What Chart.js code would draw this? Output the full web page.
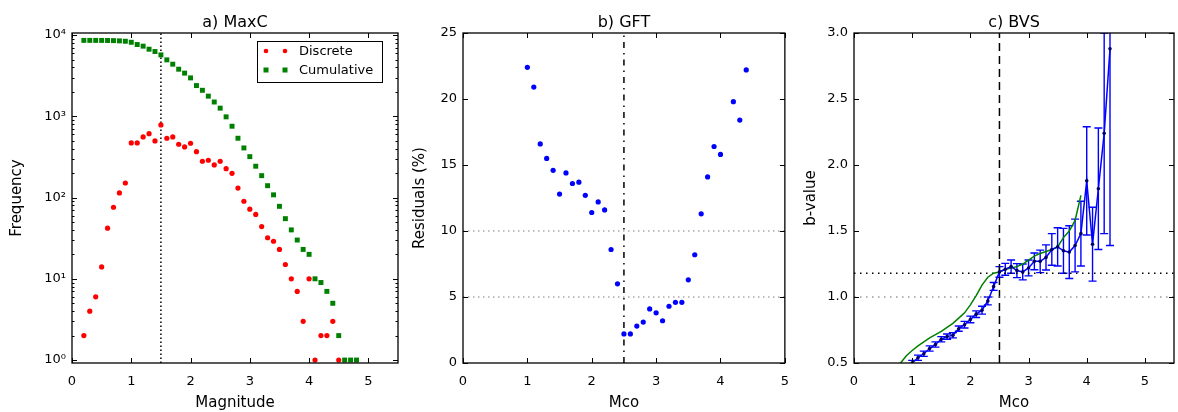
<!DOCTYPE html>
<html><head><meta charset="utf-8">
<script src="https://cdn.jsdelivr.net/npm/chart.js@4.4.1/dist/chart.umd.min.js"></script>
<style>
html,body{margin:0;padding:0;background:#fff;}
body{width:1178px;height:412px;position:relative;overflow:hidden;}
canvas{position:absolute;top:0;}
</style></head><body>
<canvas id="ca" width="410" height="412" style="left:0px"></canvas>
<canvas id="cb" width="390" height="412" style="left:410px"></canvas>
<canvas id="cc" width="378" height="412" style="left:800px"></canvas>
<script>
// ---------- data: panel a (MaxC) ----------
const discreteMag = [0.2,0.3,0.4,0.5,0.6,0.7,0.8,0.9,1.0,1.1,1.2,1.3,1.4,1.5,1.6,1.7,1.8,1.9,2.0,2.1,2.2,2.3,2.4,2.5,2.6,2.7,2.8,2.9,3.0,3.1,3.2,3.3,3.4,3.5,3.6,3.7,3.8,3.9,4.0,4.1,4.2,4.3,4.4,4.5];
const discreteCount = [2,4,6,14,42,76,114,151,470,470,557,612,498,783,537,557,453,420,466,367,280,288,252,280,227,199,131,90,72,62,44,32,29,23,15,10,7,3,10,1,2,2,3,1];
const cumulativeMag = [0.2,0.3,0.4,0.5,0.6,0.7,0.8,0.9,1.0,1.1,1.2,1.3,1.4,1.5,1.6,1.7,1.8,1.9,2.0,2.1,2.2,2.3,2.4,2.5,2.6,2.7,2.8,2.9,3.0,3.1,3.2,3.3,3.4,3.5,3.6,3.7,3.8,3.9,4.0,4.1,4.2,4.3,4.4,4.5,4.6,4.7,4.8];
const cumulativeCount = [8600,8600,8595,8590,8575,8540,8480,8390,8150,7650,7300,6700,6270,5700,4950,4380,3800,3400,2970,2390,2090,1770,1500,1260,985,755,537,408,319,243,186,140,108,78,55,40,30,23,20,10,9,7,5,2,1,1,1];
const maxcMc = 1.5;
const aXTicks = [0,1,2,3,4,5];
const aYTicks = [1,10,100,1000,10000];
const aYLabels = ['10\u2070','10\u00B9','10\u00B2','10\u00B3','10\u2074'];

// ---------- data: panel b (GFT) ----------
const gftMco = [1.0,1.1,1.2,1.3,1.4,1.5,1.6,1.7,1.8,1.9,2.0,2.1,2.2,2.3,2.4,2.5,2.6,2.7,2.8,2.9,3.0,3.1,3.2,3.3,3.4,3.5,3.6,3.7,3.8,3.9,4.0,4.2,4.3,4.4];
const gftResidual = [22.4,20.9,16.6,15.5,14.6,12.8,14.4,13.6,13.7,12.7,11.4,12.2,11.6,8.6,6.0,2.2,2.2,2.8,3.1,4.1,3.8,3.2,4.3,4.6,4.6,6.3,8.2,11.3,14.1,16.4,15.8,19.8,18.4,22.2];
const gftMc = 2.5;
const gftLevels = [5, 10];
const bXTicks = [0,1,2,3,4,5];
const bYTicks = [0,5,10,15,20,25];

// ---------- data: panel c (BVS) ----------
const bvsMco = [1.0,1.1,1.2,1.3,1.4,1.5,1.6,1.7,1.8,1.9,2.0,2.1,2.2,2.3,2.4,2.5,2.6,2.7,2.8,2.9,3.0,3.1,3.2,3.3,3.4,3.5,3.6,3.7,3.8,3.9,4.0,4.1,4.2,4.3,4.4];
const bvsB = [0.50,0.54,0.57,0.61,0.64,0.68,0.70,0.71,0.76,0.79,0.83,0.87,0.90,0.97,1.08,1.19,1.21,1.23,1.20,1.19,1.22,1.27,1.27,1.30,1.36,1.38,1.35,1.34,1.39,1.48,1.88,1.40,1.82,2.24,2.88];
const bvsErr = [0.02,0.02,0.02,0.02,0.02,0.02,0.02,0.02,0.02,0.025,0.025,0.025,0.03,0.03,0.03,0.04,0.045,0.05,0.053,0.06,0.06,0.063,0.085,0.095,0.12,0.145,0.17,0.2,0.2,0.245,0.41,0.28,0.46,0.76,1.49];
const shiMco = [0.7,0.8,0.9,1.0,1.1,1.2,1.3,1.4,1.5,1.6,1.7,1.8,1.9,2.0,2.1,2.2,2.3,2.4,2.5,2.6,2.7,2.8,2.9,3.0,3.1,3.2,3.3,3.4,3.5,3.6,3.7,3.8,3.9];
const shiB = [0.46,0.50,0.555,0.595,0.63,0.66,0.69,0.715,0.74,0.77,0.80,0.84,0.88,0.94,1.01,1.09,1.15,1.18,1.19,1.21,1.22,1.23,1.25,1.28,1.31,1.33,1.345,1.36,1.38,1.45,1.50,1.58,1.77];
const bvsMc = 2.5;
const bvsBvalue = 1.18;
const bvsRef = 1.0;
const cXTicks = [0,1,2,3,4,5];
const cYTicks = [0.5,1.0,1.5,2.0,2.5,3.0];

// ---------- helpers ----------
Chart.defaults.font.family = "'DejaVu Sans', sans-serif";
Chart.defaults.color = '#000';
Chart.defaults.animation = false;
const FONT = "'DejaVu Sans', sans-serif";
const pts = (xs, ys) => xs.map((v, i) => ({x: v, y: ys[i]}));

const frameTicks = {
  id: 'frameTicks',
  afterDatasetsDraw(chart, args, opts) {
    const {ctx, chartArea: a} = chart;
    const x = chart.scales.x, y = chart.scales.y;
    ctx.save();
    ctx.strokeStyle = '#000';
    ctx.lineWidth = 1;
    ctx.beginPath();
    const M = 5, m = 2.5;
    for (const t of x.ticks) {
      const p = Math.round(x.getPixelForValue(t.value)) + 0.5;
      ctx.moveTo(p, a.bottom); ctx.lineTo(p, a.bottom - M);
      ctx.moveTo(p, a.top); ctx.lineTo(p, a.top + M);
    }
    for (const t of y.ticks) {
      const p = Math.round(y.getPixelForValue(t.value)) + 0.5;
      ctx.moveTo(a.left, p); ctx.lineTo(a.left + M, p);
      ctx.moveTo(a.right, p); ctx.lineTo(a.right - M, p);
    }
    for (const v of (opts.minorY || [])) {
      const p = Math.round(y.getPixelForValue(v)) + 0.5;
      if (p < a.top || p > a.bottom) continue;
      ctx.moveTo(a.left, p); ctx.lineTo(a.left + m, p);
      ctx.moveTo(a.right, p); ctx.lineTo(a.right - m, p);
    }
    ctx.stroke();
    ctx.lineWidth = 1.3;
    ctx.strokeRect(a.left, a.top, a.right - a.left, a.bottom - a.top);
    ctx.restore();
  }
};

const panelTitle = {
  id: 'panelTitle',
  afterDraw(chart, args, opts) {
    const {ctx, chartArea: a} = chart;
    ctx.save();
    ctx.font = '16px ' + FONT;
    ctx.fillStyle = '#000';
    ctx.textAlign = 'center';
    ctx.textBaseline = 'alphabetic';
    ctx.fillText(opts.text, (a.left + a.right) / 2, 27);
    ctx.restore();
  }
};

const legendBox = {
  id: 'legendBox',
  afterDraw(chart, args, opts) {
    const {ctx, chartArea: a} = chart;
    const w = 125, h = 41;
    const bx = Math.round(a.right - 16 - w), by = Math.round(a.top + 8);
    ctx.save();
    ctx.fillStyle = '#fff';
    ctx.fillRect(bx, by, w, h);
    ctx.strokeStyle = '#000';
    ctx.lineWidth = 1;
    ctx.strokeRect(bx + 0.5, by + 0.5, w, h);
    const ds = chart.data.datasets.filter(d => d.inLegend);
    ds.forEach((d, i) => {
      const cy = by + 10 + i * 19;
      for (const mx of [bx + 9, bx + 28]) {
        ctx.fillStyle = d.backgroundColor;
        if (d.pointStyle === 'rect') {
          ctx.fillRect(mx - 2.5, cy - 2.5, 5, 5);
        } else {
          ctx.beginPath(); ctx.arc(mx, cy, 2.3, 0, Math.PI * 2); ctx.fill();
        }
      }
      ctx.fillStyle = '#000';
      ctx.font = '13px ' + FONT;
      ctx.textAlign = 'left';
      ctx.textBaseline = 'middle';
      ctx.fillText(d.label, bx + 42, cy + 1);
    });
    ctx.restore();
  }
};

const errorBars = {
  id: 'errorBars',
  beforeDatasetsDraw(chart) {
    const {ctx, chartArea: a} = chart;
    const x = chart.scales.x, y = chart.scales.y;
    ctx.save();
    ctx.beginPath();
    ctx.rect(a.left, a.top, a.right - a.left, a.bottom - a.top);
    ctx.clip();
    chart.data.datasets.forEach(d => {
      if (!d.errors) return;
      ctx.strokeStyle = d.errorColor;
      ctx.lineWidth = 1.4;
      ctx.beginPath();
      d.data.forEach((p, i) => {
        const e = d.errors[i];
        const px = x.getPixelForValue(p.x);
        const y1 = y.getPixelForValue(p.y - e), y2 = y.getPixelForValue(p.y + e);
        ctx.moveTo(px, y1); ctx.lineTo(px, y2);
        ctx.moveTo(px - 4, y1); ctx.lineTo(px + 4, y1);
        ctx.moveTo(px - 4, y2); ctx.lineTo(px + 4, y2);
      });
      ctx.stroke();
    });
    ctx.restore();
  }
};

function xScale(min, max, tickVals, title) {
  return {
    type: 'linear', min, max,
    grid: {display: false, drawTicks: false}, border: {display: false},
    ticks: {padding: 11, font: {size: 13}, color: '#000', autoSkip: false, maxRotation: 0,
            callback: v => String(v)},
    afterBuildTicks: s => { s.ticks = tickVals.map(v => ({value: v})); },
    afterFit: s => { s.height = 49; },
    title: {display: true, text: title, font: {size: 15}, color: '#000', padding: {top: 0, bottom: 0}}
  };
}
function yScale(type, min, max, tickVals, labelFn, title, width, tpad) {
  return {
    type, min, max,
    grid: {display: false, drawTicks: false}, border: {display: false},
    ticks: {padding: 6, font: {size: 13}, color: '#000', autoSkip: false,
            callback: (v) => labelFn(v)},
    afterBuildTicks: s => { s.ticks = tickVals.map(v => ({value: v})); },
    afterFit: s => { s.width = width; },
    title: {display: true, text: title, font: {size: 15}, color: '#000', padding: {top: tpad, bottom: tpad}}
  };
}
const vline = (xv, ymin, ymax, color, dash, width) => ({
  data: [{x: xv, y: ymin}, {x: xv, y: ymax}], showLine: true, pointRadius: 0,
  borderColor: color, borderDash: dash, borderWidth: width, order: 10
});
const hline = (yv, xmin, xmax, color, dash, width) => ({
  data: [{x: xmin, y: yv}, {x: xmax, y: yv}], showLine: true, pointRadius: 0,
  borderColor: color, borderDash: dash, borderWidth: width, order: 10
});
const common = {
  responsive: false, devicePixelRatio: 1, animation: false, events: [],
  plugins: {legend: {display: false}, tooltip: {enabled: false}}
};

// ---------- panel a ----------
const aMinor = [];
for (const d of [1, 10, 100, 1000]) for (let k = 2; k <= 9; k++) aMinor.push(k * d);
new Chart(document.getElementById('ca'), {
  type: 'scatter',
  data: {datasets: [
    vline(maxcMc, 0.92, 10600, '#000', [1.5, 2.5], 1.5),
    {label: 'Discrete', inLegend: true, data: pts(discreteMag, discreteCount), pointStyle: 'circle',
     pointRadius: 2.6, backgroundColor: '#ff0000', pointBorderWidth: 0, order: 1},
    {label: 'Cumulative', inLegend: true, data: pts(cumulativeMag, cumulativeCount), pointStyle: 'rect',
     pointRadius: 3.5, backgroundColor: '#008000', pointBorderWidth: 0, order: 2}
  ]},
  options: Object.assign({}, common, {
    layout: {padding: {left: 0, right: 12, top: 33, bottom: 0}},
    scales: {
      x: xScale(0, 5.5, aXTicks, 'Magnitude'),
      y: yScale('logarithmic', 0.92, 10600, aYTicks, v => aYLabels[aYTicks.indexOf(v)] || '', 'Frequency', 72, 8)
    },
    plugins: Object.assign({}, common.plugins, {frameTicks: {minorY: aMinor}, panelTitle: {text: 'a) MaxC'}})
  }),
  plugins: [frameTicks, panelTitle, legendBox]
});

// ---------- panel b ----------
new Chart(document.getElementById('cb'), {
  type: 'scatter',
  data: {datasets: [
    hline(gftLevels[0], 0, 5, '#aaaaaa', [1.5, 3.5], 1.5),
    hline(gftLevels[1], 0, 5, '#aaaaaa', [1.5, 3.5], 1.5),
    vline(gftMc, 0, 25, '#000', [6, 5, 1.5, 5], 1.5),
    {label: 'GFT', data: pts(gftMco, gftResidual), pointStyle: 'circle', pointRadius: 2.6,
     backgroundColor: '#0000ff', pointBorderWidth: 0, order: 1}
  ]},
  options: Object.assign({}, common, {
    layout: {padding: {left: 0, right: 11, top: 33, bottom: 0}},
    scales: {
      x: xScale(0, 5, bXTicks, 'Mco'),
      y: yScale('linear', 0, 25, bYTicks, v => String(v), 'Residuals (%)', 53, 1)
    },
    plugins: Object.assign({}, common.plugins, {panelTitle: {text: 'b) GFT'}})
  }),
  plugins: [frameTicks, panelTitle]
});

// ---------- panel c ----------
new Chart(document.getElementById('cc'), {
  type: 'scatter',
  data: {datasets: [
    hline(bvsRef, 0, 5.5, '#999999', [1.5, 4.5], 1.5),
    hline(bvsBvalue, 0, 5.5, '#000', [1.5, 4.5], 1.5),
    vline(bvsMc, 0.5, 3.0, '#000', [8, 5], 1.5),
    {label: 'Shi', data: pts(shiMco, shiB), showLine: true, pointRadius: 0,
     borderColor: '#008000', borderWidth: 1.5, order: 2},
    {label: 'BVS', data: pts(bvsMco, bvsB), errors: bvsErr, errorColor: '#0000ff', showLine: true,
     pointStyle: 'circle', pointRadius: 1.8, backgroundColor: '#000066', pointBackgroundColor: '#000066',
     pointBorderWidth: 0, borderColor: '#0000ff', borderWidth: 1.5, order: 1}
  ]},
  options: Object.assign({}, common, {
    layout: {padding: {left: 0, right: 1, top: 33, bottom: 0}},
    scales: {
      x: xScale(0, 5.5, cXTicks, 'Mco'),
      y: yScale('linear', 0.5, 3.0, cYTicks, v => v.toFixed(1), 'b-value', 54, 2)
    },
    plugins: Object.assign({}, common.plugins, {panelTitle: {text: 'c) BVS'}})
  }),
  plugins: [errorBars, frameTicks, panelTitle]
});
</script>
</body></html>
